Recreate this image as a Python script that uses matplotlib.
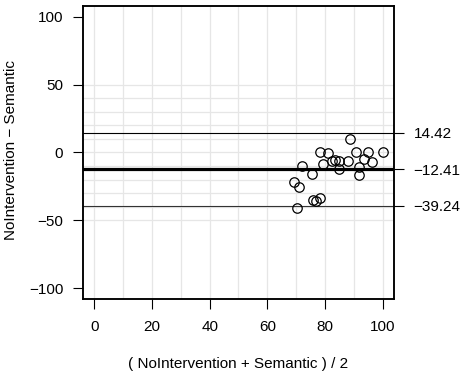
import matplotlib
matplotlib.use("Agg")
import matplotlib.pyplot as plt
import numpy as np

plt.rcParams.update({
    "font.family": ["Liberation Sans", "DejaVu Sans"],
    "font.size": 11,
})

# Bland-Altman data: mean of the two methods vs. their difference
avg = [88.5, 78.3, 80.9, 82.5, 83.3, 84.8, 87.9, 90.9, 95.0, 100.0,
       93.5, 96.3, 79.3, 71.9, 84.9, 91.7, 91.7, 75.4, 69.4, 71.0,
       75.7, 76.7, 78.4, 70.4]
diff = [9.8, 0.0, -0.7, -6.4, -5.8, -6.0, -6.1, 0.0, 0.0, 0.2,
        -4.9, -7.1, -8.6, -10.1, -12.0, -10.8, -16.5, -16.2, -21.9, -25.3,
        -34.7, -36.1, -33.2, -40.8]

mean_diff = -12.41
upper_loa = 14.42
lower_loa = -39.24
loa_labels = ["14.42", "\u221212.41", "\u221239.24"]

x_ticks = [0, 20, 40, 60, 80, 100]
y_ticks = [-100, -50, 0, 50, 100]
x_grid = np.arange(0, 101, 10)
y_grid = np.arange(-50, 51, 10)

fig = plt.figure(figsize=(4.69, 3.79), dpi=100)
ax = fig.add_axes([0.1763, 0.2111, 0.6644, 0.7731])

# light grid
for gx in x_grid:
    ax.axvline(gx, color="#e6e6e6", lw=0.9, zorder=0)
for gy in y_grid:
    ax.axhline(gy, color="#e6e6e6", lw=0.9, zorder=0)

ax.axhline(upper_loa, color="black", lw=0.8, zorder=1)
ax.axhline(mean_diff, color="black", lw=2.3, zorder=1)
ax.axhline(lower_loa, color="#333333", lw=0.8, zorder=1)

ax.plot(avg, diff, "o", mfc="none", mec="black", ms=6.8, mew=0.9, zorder=2)

ax.set_xlim(-4, 104)
ax.set_ylim(-108, 108)
ax.set_xticks(x_ticks)
ax.set_yticks(y_ticks)
ax.tick_params(direction="out", length=7, width=0.8, pad=7, labelsize=11)
ax.tick_params(axis="x", pad=8)
for s in ax.spines.values():
    s.set_linewidth(1.1)

ax.set_xlabel("( NoIntervention + Semantic ) / 2", labelpad=17)
ax.set_ylabel("NoIntervention \u2212 Semantic")
ax.yaxis.set_label_coords(-0.206, 0.51)

ax2 = ax.twinx()
ax2.set_ylim(ax.get_ylim())
ax2.set_yticks([upper_loa, mean_diff, lower_loa])
ax2.set_yticklabels(loa_labels)
ax2.tick_params(direction="out", length=7, width=0.8, pad=7, labelsize=11)
for s in ax2.spines.values():
    s.set_linewidth(1.1)

fig.savefig("out.png", dpi=100)
